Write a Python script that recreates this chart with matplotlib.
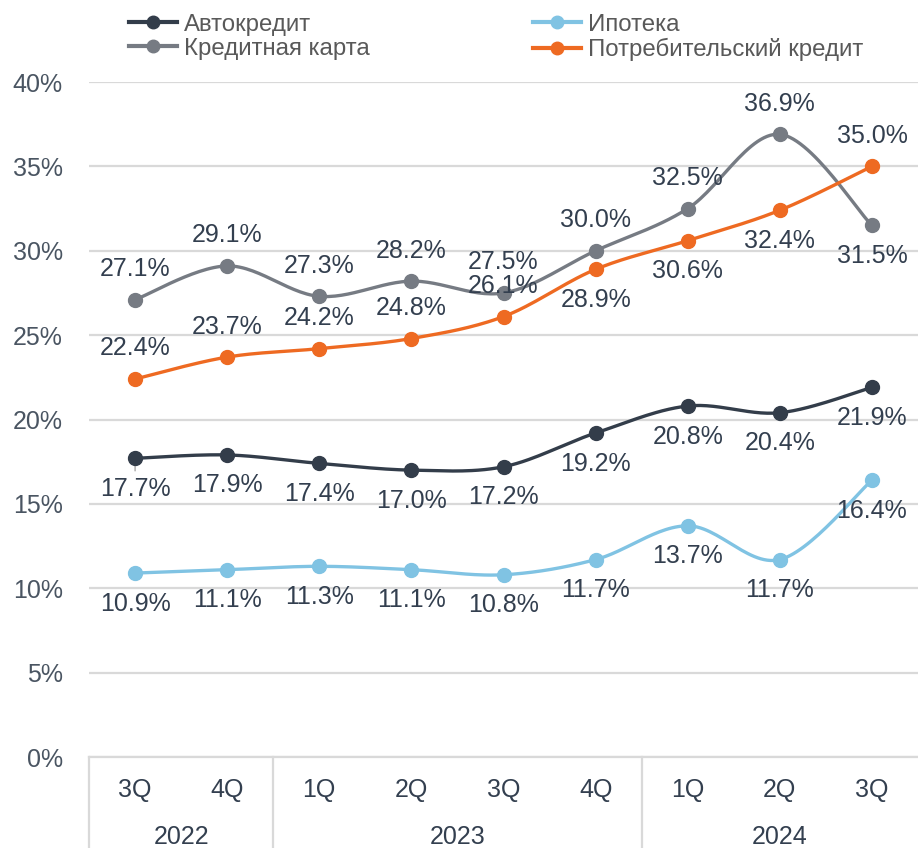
import numpy as np
import matplotlib
matplotlib.use("Agg")
import matplotlib.pyplot as plt
from matplotlib.lines import Line2D

plt.rcParams['font.family'] = ['Liberation Sans', 'DejaVu Sans']

quarters = ["3Q", "4Q", "1Q", "2Q", "3Q", "4Q", "1Q", "2Q", "3Q"]
years = ["2022", "2023", "2024"]
year_spans = [(0, 1), (2, 5), (6, 8)]

auto = [17.7, 17.9, 17.4, 17.0, 17.2, 19.2, 20.8, 20.4, 21.9]
mortgage = [10.9, 11.1, 11.3, 11.1, 10.8, 11.7, 13.7, 11.7, 16.4]
card = [27.1, 29.1, 27.3, 28.2, 27.5, 30.0, 32.5, 36.9, 31.5]
consumer = [22.4, 23.7, 24.2, 24.8, 26.1, 28.9, 30.6, 32.4, 35.0]

names = ["Автокредит", "Ипотека", "Кредитная карта", "Потребительский кредит"]
colors = ["#333D4A", "#80C3E3", "#767B83", "#EE6A22"]

# label placement: +1 above, -1 below
pos_auto = [-1] * 9
pos_mort = [-1] * 9
pos_card = [1, 1, 1, 1, 1, 1, 1, 1, -1]
pos_cons = [1, 1, 1, 1, 1, -1, -1, -1, 1]

FS = 18


def smooth(x, y, n=30):
    x = np.asarray(x, float)
    y = np.asarray(y, float)
    px = np.concatenate([[x[0]], x, [x[-1]]])
    py = np.concatenate([[y[0]], y, [y[-1]]])
    xs, ys = [], []
    t = np.linspace(0, 1, n)
    for i in range(1, len(px) - 2):
        p0x, p1x, p2x, p3x = px[i - 1], px[i], px[i + 1], px[i + 2]
        p0y, p1y, p2y, p3y = py[i - 1], py[i], py[i + 1], py[i + 2]
        c1x = p1x + (p2x - p0x) / 6
        c1y = p1y + (p2y - p0y) / 6
        c2x = p2x - (p3x - p1x) / 6
        c2y = p2y - (p3y - p1y) / 6
        bx = (1 - t) ** 3 * p1x + 3 * (1 - t) ** 2 * t * c1x + 3 * (1 - t) * t ** 2 * c2x + t ** 3 * p2x
        by = (1 - t) ** 3 * p1y + 3 * (1 - t) ** 2 * t * c1y + 3 * (1 - t) * t ** 2 * c2y + t ** 3 * p2y
        xs.extend(bx)
        ys.extend(by)
    return np.array(xs), np.array(ys)


fig = plt.figure(figsize=(9.18, 8.48), dpi=100)
ax = fig.add_axes([0.097, 0.1073, 0.903, 0.796])

x = np.arange(len(quarters))
series = [auto, mortgage, card, consumer]
positions = [pos_auto, pos_mort, pos_card, pos_cons]

for vals, col, name in zip(series, colors, names):
    sx, sy = smooth(x, vals)
    ax.plot(sx, sy, color=col, lw=2.4, zorder=3, solid_capstyle='round')
    ax.plot(x, vals, 'o', color=col, ms=10, zorder=4)

label_color = "#333F4F"
for vals, pos in zip(series, positions):
    for xi, v, p in zip(x, vals, pos):
        ax.annotate(f"{v:.1f}%", (xi, v), xytext=(0, 22 * p), textcoords='offset points',
                    ha='center', va='center', fontsize=FS, color=label_color, zorder=5)

# small leader line at first auto point
ax.annotate("", (0, auto[0]), xytext=(0, -9), textcoords='offset points',
            arrowprops=dict(arrowstyle='-', color='#A6A6A6', lw=1, shrinkA=0, shrinkB=4))

ax.set_xlim(-0.5, len(quarters) - 0.5)
ax.set_ylim(0, 40)
ax.set_yticks(np.arange(0, 41, 5))
ax.set_yticklabels([f"{t}%" for t in range(0, 41, 5)], fontsize=FS, color="#4A5562")
ax.yaxis.grid(True, color="#D9D9D9", lw=1.6)
ax.set_axisbelow(True)
ax.tick_params(axis='y', length=0, pad=19)
ax.tick_params(axis='x', length=0, pad=15)
ax.set_xticks(x)
ax.set_xticklabels(quarters, fontsize=FS, color="#333F4F")
for s in ['left', 'right', 'top']:
    ax.spines[s].set_visible(False)
ax.spines['bottom'].set_color("#D9D9D9")
ax.spines['bottom'].set_linewidth(1.6)

trans = ax.get_xaxis_transform()
seps = [-0.5, 1.5, 5.5]
for sxp in seps:
    ax.add_line(Line2D([sxp, sxp], [0, -0.14], transform=trans, color="#D9D9D9",
                       lw=1.6, clip_on=False))
for yr, (a, b) in zip(years, year_spans):
    ax.text((a + b) / 2, -0.118, yr, transform=trans, ha='center', va='center',
            fontsize=FS, color="#333F4F")

LFS = 17.3
handles = [Line2D([], [], color=c, lw=3, marker='o', ms=9) for c in colors]
order = [0, 2, 1, 3]
leg = fig.legend([handles[i] for i in order], [names[i] for i in order], ncol=2,
                 loc='upper left', bbox_to_anchor=(0.13, 0.995), frameon=False,
                 fontsize=LFS, handlelength=2.0, handletextpad=0.3, columnspacing=6.78,
                 labelspacing=0.08, borderaxespad=0)
for t in leg.get_texts():
    t.set_color("#595959")

fig.savefig("out.png", dpi=100)
